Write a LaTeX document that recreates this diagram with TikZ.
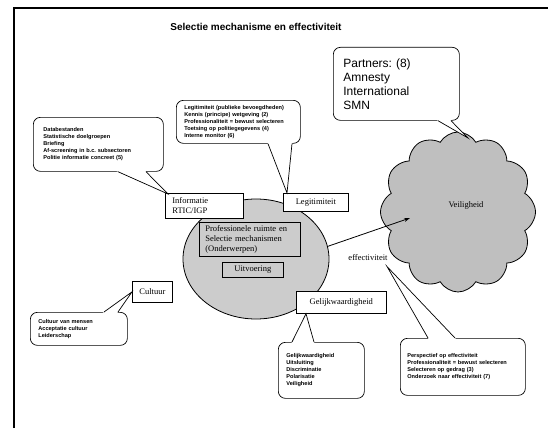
\documentclass[tikz,border=0pt]{standalone}
\usepackage{fontspec}
\setmainfont{Liberation Serif}
\newfontfamily\arialfont{Liberation Sans}
\usetikzlibrary{shapes.geometric,shapes.symbols,calc,arrows.meta}
\frenchspacing

% wedge-shaped pointer from a callout (base points #1, #3) to its target (#2)
\newcommand\wedgetail[3]{%
  \fill[white] ($(#1)!-1.5pt!(#2)$) -- (#2) -- ($(#3)!-1.5pt!(#2)$) -- cycle;
  \draw[tail] (#1) -- (#2) -- (#3);}

\tikzset{
  frameline/.style={line width=1.3pt},
  callout/.style={draw, fill=white, rounded corners=7pt, line width=0.7pt,
    align=left, anchor=north west, inner sep=0pt,
    font=\arialfont\bfseries\fontsize{5.6}{7}\selectfont},
  labelbox/.style={draw, fill=white, line width=0.7pt, anchor=north west,
    inner sep=0pt, font=\fontsize{8.5}{10}\selectfont},
  graybox/.style={labelbox, fill=gray!40},
  tail/.style={line width=0.7pt},
}

\begin{document}
\begin{tikzpicture}[x=1pt,y=-1pt]
\useasboundingbox (0,0) rectangle (548,428);

% page frame
\draw[frameline] (14,428) -- (14,8) -- (548,8);

% title
\node[font=\arialfont\bfseries\fontsize{10}{12}\selectfont] (title) at (256,27)
  {Selectie mechanisme en effectiviteit};

% central area
\node[ellipse, draw, fill=gray!40, line width=0.8pt, minimum width=146pt,
  minimum height=120pt, inner sep=0pt] (circ) at (256,259) {};
\node[graybox, minimum width=101pt, minimum height=34pt, text width=89pt,
  align=left] (prof) at (199,222)
  {Professionele ruimte en\\Selectie mechanismen\\(Onderwerpen)};
\node[graybox, minimum width=61pt, minimum height=15pt] (uitv) at (222,262)
  {Uitvoering};

% labels around the centre
\node[labelbox, minimum width=78pt, minimum height=25pt, text width=64pt,
  align=left] (infobox) at (165,193) {Informatie\\RTIC/IGP};
\node[labelbox, minimum width=65pt, minimum height=18pt] (legitbox) at (283,193)
  {Legitimiteit};
\node[labelbox, minimum width=40pt, minimum height=21pt] (cultbox) at (132,281)
  {Cultuur};
\node[labelbox, minimum width=90pt, minimum height=22pt] (gelijkbox) at (296,291)
  {Gelijkwaardigheid};

% cloud
\node[cloud, cloud puffs=12, cloud puff arc=120, aspect=1, draw, fill=gray!50,
  line width=0.8pt, minimum width=155pt, minimum height=160pt] (cloud)
  at (458,212) {};
\node[font=\fontsize{8.5}{10}\selectfont] (veil) at (466,205) {Veiligheid};

% arrow from the centre to the cloud
\coordinate (cloudin) at (410,218);
\draw[-{Stealth[length=6pt,width=4pt]}, line width=0.8pt] (circ.10) -- (cloudin);
\node[font=\fontsize{8.5}{10}\selectfont] (efflabel) at (368,258) {effectiviteit};

% callouts
\node[callout, font=\arialfont\fontsize{12}{14}\selectfont, minimum width=126pt,
  minimum height=73pt, text width=106pt] (partners) at (333,47)
  {Partners: (8)\\Amnesty\\International\\SMN};
\node[callout, minimum width=124pt, minimum height=43pt, text width=108pt]
  (legitcall) at (176,100)
  {Legitimiteit (publieke bevoegdheden)\\Kennis (principe) wetgeving (2)\\
   Professionaliteit = bewust selecteren\\Toetsing op politiegegevens (4)\\
   Interne monitor (6)};
\node[callout, minimum width=130pt, minimum height=54pt, text width=110pt]
  (infocall) at (33,117)
  {Databestanden\\Statistische doelgroepen\\Briefing\\
   Af-screening in b.c. subsectoren\\Politie informatie concreet (5)};
\node[callout, minimum width=97pt, minimum height=33pt, text width=81pt]
  (cultcall) at (30,312)
  {Cultuur van mensen\\Acceptatie cultuur\\Leiderschap};
\node[callout, minimum width=86pt, minimum height=56pt, text width=70pt]
  (gelijkcall) at (278,342)
  {Gelijkwaardigheid\\Uitsluiting\\Discriminatie\\Polarisatie\\Veiligheid};
\node[callout, minimum width=125pt, minimum height=57pt, text width=111pt]
  (effcall) at (400,338)
  {Perspectief op effectiviteit\\Professionaliteit = bewust selecteren\\
   Selecteren op gedrag (3)\\Onderzoek naar effectiviteit (7)};

% pointers of the callouts
\coordinate (partA) at ($(partners.south west)+(105,0)$);
\coordinate (partB) at ($(partners.south west)+(118,0)$);
\coordinate (partP) at (468,138);
\wedgetail{partA}{partP}{partB}

\coordinate (legitA) at ($(legitcall.south west)+(92,0)$);
\coordinate (legitB) at ($(legitcall.south west)+(116,0)$);
\coordinate (legitP) at ($(legitbox.north west)+(4,0)$);
\wedgetail{legitA}{legitP}{legitB}

\coordinate (infoA) at ($(infocall.south west)+(85,0)$);
\coordinate (infoB) at ($(infocall.south west)+(113,0)$);
\coordinate (infoP) at ($(infobox.north west)+(3,1)$);
\wedgetail{infoA}{infoP}{infoB}

\coordinate (cultA) at ($(cultcall.north west)+(74,0)$);
\coordinate (cultB) at ($(cultcall.north west)+(88,0)$);
\wedgetail{cultA}{cultbox.west}{cultB}

\coordinate (gelA) at ($(gelijkcall.north west)+(14,0)$);
\coordinate (gelB) at ($(gelijkcall.north west)+(36,0)$);
\coordinate (gelP) at ($(gelijkbox.south west)+(10,0)$);
\wedgetail{gelA}{gelP}{gelB}

\coordinate (effA) at ($(effcall.north west)+(28,0)$);
\coordinate (effB) at ($(effcall.north west)+(55,0)$);
\coordinate (effP) at ($(efflabel.south east)+(-4,2)$);
\wedgetail{effA}{effP}{effB}

\end{tikzpicture}
\end{document}
